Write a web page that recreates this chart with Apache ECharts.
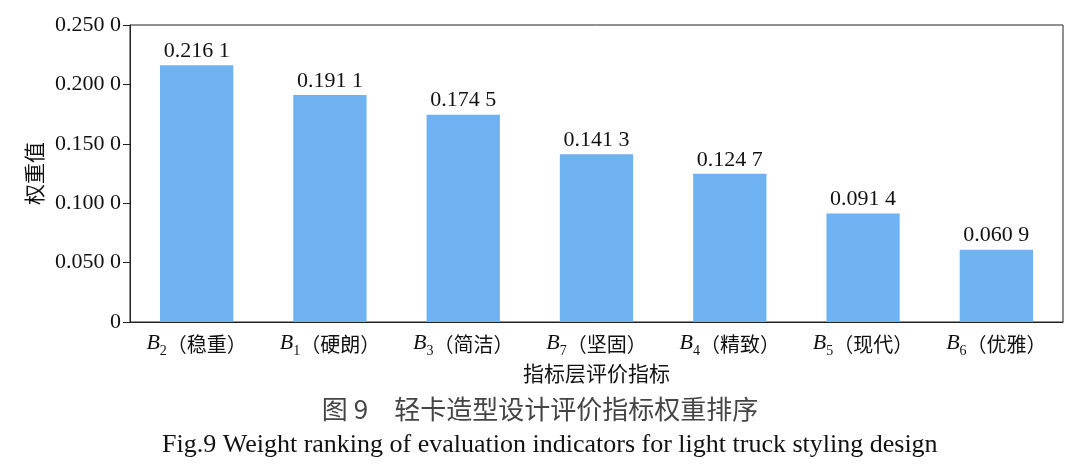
<!DOCTYPE html>
<html><head><meta charset="utf-8">
<script src="https://cdn.jsdelivr.net/npm/echarts@6/dist/echarts.min.js"></script>
<style>html,body{margin:0;padding:0;background:#fff}#c{width:1080px;height:466px}</style>
</head><body><div id="c"></div>
<script>
var codes = ['2','1','3','7','4','5','6'];
var names = ['稳重','硬朗','简洁','坚固','精致','现代','优雅'];
var values = [0.2161,0.1911,0.1745,0.1413,0.1247,0.0914,0.0609];
var yTicks = [0,0.05,0.10,0.15,0.20,0.25];
var yTitle = '权重值';
var xTitle = '指标层评价指标';
var caption1 = '图 9　轻卡造型设计评价指标权重排序';
var caption2 = 'Fig.9 Weight ranking of evaluation indicators for light truck styling design';

function fmt(v){
  if (Math.abs(v) < 1e-9) return '0';
  var s = v.toFixed(4);
  return s.slice(0, s.length-1) + ' ' + s.slice(-1);
}
var cats = codes.map(function(c,i){ return c + '|' + names[i]; });
var serif = '"Liberation Serif","Times New Roman",serif';
var cjk = '"Noto Sans CJK SC",sans-serif';

var chart = echarts.init(document.getElementById('c'));
chart.setOption({
  animation:false,
  grid:{left:130,right:17,top:25,bottom:144,show:true,borderColor:'#222',borderWidth:1,backgroundColor:'transparent'},
  xAxis:{
    type:'category', data:cats,
    axisLine:{lineStyle:{color:'#222'}},
    axisTick:{show:false},
    axisLabel:{
      interval:0, margin:8,
      formatter:function(v){ var p=v.split('|'); return '{b|B}{s|'+p[0]+'}{n|（'+p[1]+'）}'; },
      rich:{
        b:{fontFamily:serif,fontStyle:'italic',fontSize:22,color:'#111',lineHeight:24,verticalAlign:'bottom'},
        s:{fontFamily:serif,fontSize:14,color:'#111',lineHeight:24,verticalAlign:'bottom',padding:[0,0,-4,0]},
        n:{fontFamily:cjk,fontSize:20,color:'#111',lineHeight:24,verticalAlign:'bottom'}
      }
    },
    name:xTitle, nameLocation:'middle', nameGap:39,
    nameTextStyle:{fontFamily:cjk,fontSize:21,color:'#111'}
  },
  yAxis:{
    type:'value', min:0, max:0.25, interval:0.05,
    axisLine:{show:true,lineStyle:{color:'#222'}},
    axisTick:{show:true,length:7,inside:false,lineStyle:{color:'#222'}},
    splitLine:{show:false},
    axisLabel:{fontFamily:serif,fontSize:22,color:'#111',margin:9,formatter:function(v){return fmt(v);}},
    name:yTitle, nameLocation:'middle', nameGap:83, nameRotate:90,
    nameTextStyle:{fontFamily:cjk,fontSize:21,color:'#111'}
  },
  series:[{
    type:'bar', data:values, barWidth:'55%',
    itemStyle:{color:'#6EB2F1'},
    label:{show:true,position:'top',distance:3,fontFamily:serif,fontSize:22,color:'#111',formatter:function(p){return fmt(p.value);}}
  }],
  graphic:[
    {type:'text',left:'center',top:396,style:{text:caption1,font:'26px '+cjk,fill:'#444'}},
    {type:'text',left:162,top:432,style:{text:caption2,font:'26px '+serif,fill:'#111'}}
  ]
});
</script></body></html>
